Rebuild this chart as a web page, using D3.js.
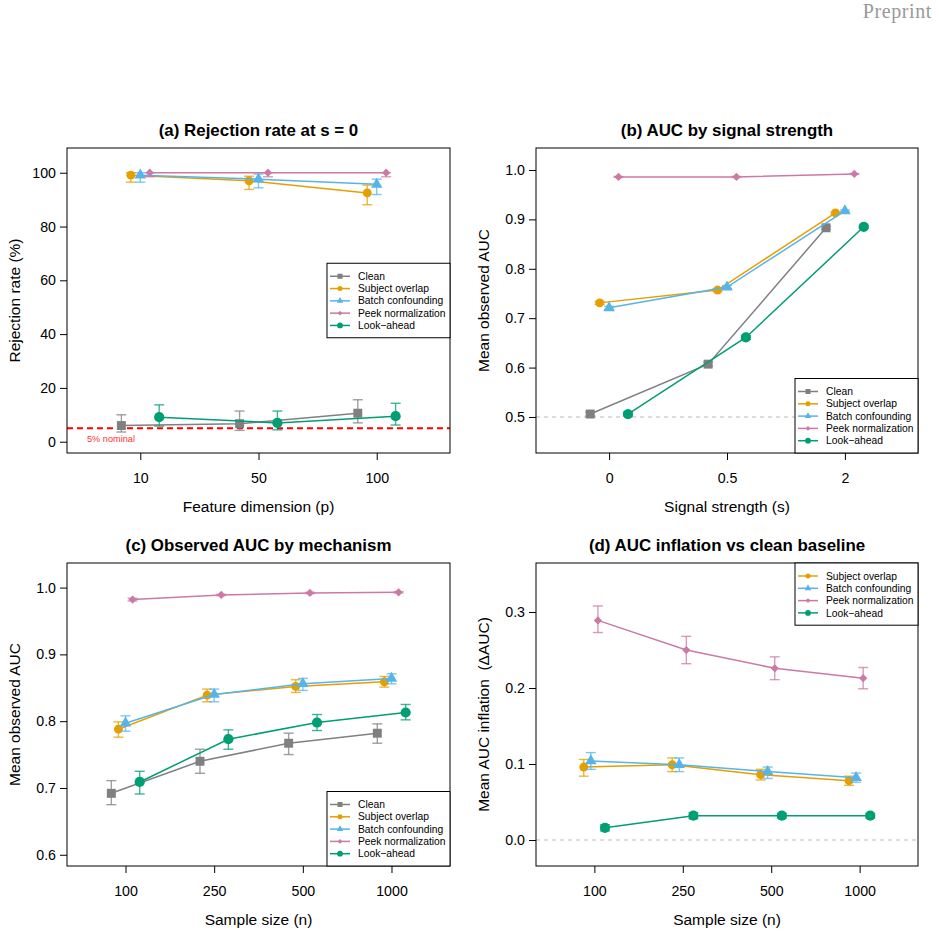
<!DOCTYPE html>
<html><head><meta charset="utf-8">
<script src="https://cdn.jsdelivr.net/npm/d3@7"></script>
<style>
body{margin:0;background:#fff}
svg{display:block;font-family:"Liberation Sans",Arial,Helvetica,sans-serif}
</style>
</head><body><svg id="c" width="939" height="936"></svg>
<script>
// ---------- data ----------
const seriesNames = ["Clean","Subject overlap","Batch confounding","Peek normalization","Look\u2212ahead"];
const seriesColors = ["#808080","#E69F00","#56B4E9","#CC79A7","#009E73"];
const seriesShapes = ["square","circle","triangle","diamond","bigcircle"];

// (a) rejection rate at s = 0
const pLabels = ["10","50","100"];
const aMean = [[6.0,6.7,10.6],[99.1,97.0,92.5],[99.1,97.6,95.7],[100,100,100],[9.1,7.0,9.5]];
const aLo   = [[3.6,4.2,7.0],[96.5,93.8,88.1],[96.5,94.4,91.9],[98.5,98.5,98.5],[5.8,4.4,6.2]];
const aHi   = [[10.0,11.4,15.6],[100,98.7,95.4],[100,99.5,97.6],[100,100,100],[13.7,11.4,14.3]];
const aYTicks = [0,20,40,60,80,100];

// (b) AUC by signal strength
const sLabels = ["0","0.5","2"];
const bMean = [[0.506,0.607,0.883],[0.731,0.757,0.913],[0.721,0.763,0.917],[0.986,0.986,0.992],[0.506,0.661,0.885]];
const bLo   = [[0.502,0.603,0.880],[0.728,0.754,0.911],[0.718,0.760,0.915],[0.985,0.985,0.991],[0.502,0.657,0.882]];
const bHi   = [[0.510,0.611,0.886],[0.734,0.760,0.915],[0.724,0.766,0.919],[0.987,0.987,0.993],[0.510,0.665,0.888]];
const bYTicks = [0.5,0.6,0.7,0.8,0.9,1.0];

// (c) observed AUC by mechanism
const nLabels = ["100","250","500","1000"];
const cMean = [[0.692,0.740,0.767,0.782],[0.788,0.839,0.852,0.859],[0.797,0.840,0.856,0.864],[0.982,0.989,0.992,0.993],[0.709,0.773,0.798,0.813]];
const cLo   = [[0.675,0.722,0.750,0.767],[0.776,0.829,0.843,0.851],[0.785,0.829,0.846,0.856],[0.980,0.988,0.991,0.992],[0.691,0.758,0.786,0.802]];
const cHi   = [[0.711,0.758,0.782,0.796],[0.799,0.848,0.862,0.867],[0.808,0.848,0.864,0.871],[0.984,0.990,0.993,0.994],[0.725,0.787,0.810,0.825]];
const cYTicks = [0.6,0.7,0.8,0.9,1.0];

// (d) AUC inflation vs clean baseline (series 1..4)
const dMean = [[0.096,0.099,0.086,0.078],[0.104,0.099,0.090,0.082],[0.289,0.250,0.226,0.213],[0.016,0.032,0.032,0.032]];
const dLo   = [[0.084,0.090,0.079,0.072],[0.093,0.090,0.081,0.076],[0.273,0.232,0.211,0.199],[0.012,0.028,0.029,0.029]];
const dHi   = [[0.106,0.108,0.093,0.084],[0.115,0.108,0.096,0.088],[0.308,0.268,0.241,0.227],[0.020,0.036,0.035,0.035]];
const dYTicks = [0.0,0.1,0.2,0.3];

// ---------- drawing ----------
const svg = d3.select("#c");

function markerPath(shape, big){
  const k = big ? 1 : 0.32;
  switch(shape){
    case "square": return {p:d3.symbol(d3.symbolSquare, 80*k)(), rot:0};
    case "circle": return {p:d3.symbol(d3.symbolCircle, 62*k)(), rot:0};
    case "triangle": return {p:d3.symbol(d3.symbolTriangle, 58*k)(), rot:0};
    case "diamond": return {p:d3.symbol(d3.symbolSquare, 34*k)(), rot:45};
    case "bigcircle": return {p:d3.symbol(d3.symbolCircle, 82*k)(), rot:0};
  }
}

function drawPanel(cfg){
  const {L,R,T,B,labels,ydom,yticks,yfmt,sIdx,offsets,mean,lo,hi,title,xtitle,ytitle,legend,ref} = cfg;
  const n = labels.length;
  const ex = n*0.04;
  const x = d3.scaleLinear().domain([0.5-ex, n+0.5+ex]).range([L,R]);
  const y = d3.scaleLinear().domain(ydom).range([B,T]);
  const g = svg.append("g");

  // reference line
  if(ref){
    g.append("line").attr("x1",L).attr("x2",R).attr("y1",y(ref.v)).attr("y2",y(ref.v))
      .attr("stroke",ref.color).attr("stroke-width",ref.w).attr("stroke-dasharray",ref.dash);
    if(ref.text){
      g.append("text").attr("x",L+20).attr("y",y(ref.v)+14).attr("fill","#FF3333")
        .attr("font-size",9.2).text(ref.text);
    }
  }

  // series
  sIdx.forEach((s,k)=>{
    const col = seriesColors[s];
    const pts = mean[k].map((v,i)=>({x:x(i+1+offsets[k]), y:y(v), lo:y(lo[k][i]), hi:y(hi[k][i])}));
    const eb = g.append("g").attr("stroke",col).attr("stroke-opacity",0.75).attr("stroke-width",1.4);
    pts.forEach(p=>{
      eb.append("line").attr("x1",p.x).attr("x2",p.x).attr("y1",p.lo).attr("y2",p.hi);
      eb.append("line").attr("x1",p.x-5).attr("x2",p.x+5).attr("y1",p.lo).attr("y2",p.lo);
      eb.append("line").attr("x1",p.x-5).attr("x2",p.x+5).attr("y1",p.hi).attr("y2",p.hi);
    });
    g.append("path").attr("d",d3.line().x(d=>d.x).y(d=>d.y)(pts))
      .attr("fill","none").attr("stroke",col).attr("stroke-width",1.5);
    const m = markerPath(seriesShapes[s], true);
    pts.forEach(p=>{
      g.append("path").attr("d",m.p).attr("fill",col)
        .attr("transform",`translate(${p.x},${p.y}) rotate(${m.rot})`);
    });
  });

  // box
  g.append("rect").attr("x",L).attr("y",T).attr("width",R-L).attr("height",B-T)
    .attr("fill","none").attr("stroke","#000").attr("stroke-width",1);

  // axes
  const xa = d3.axisBottom(x).tickValues(d3.range(1,n+1)).tickFormat(i=>labels[i-1]).tickSize(7).tickPadding(13);
  const xg = g.append("g").attr("transform",`translate(0,${B})`).call(xa);
  const ya = d3.axisLeft(y).tickValues(yticks).tickFormat(yfmt).tickSize(7).tickPadding(4);
  const yg = g.append("g").attr("transform",`translate(${L},0)`).call(ya);
  [xg,yg].forEach(a=>{
    a.select(".domain").remove();
    a.selectAll("line").attr("stroke","#000");
    a.selectAll("text").attr("font-size",14.2).attr("fill","#000").attr("font-family","Liberation Sans, Arial, sans-serif");
  });

  // titles
  g.append("text").attr("x",(L+R)/2).attr("y",T-12).attr("text-anchor","middle")
    .attr("font-weight","bold").attr("font-size",16.9).text(title);
  g.append("text").attr("x",(L+R)/2).attr("y",B+58.5).attr("text-anchor","middle")
    .attr("font-size",15.5).text(xtitle);
  g.append("text").attr("transform",`translate(${L-47.5},${(T+B)/2}) rotate(-90)`)
    .attr("text-anchor","middle").attr("font-size",15.5).style("white-space","pre").text(ytitle);

  // legend
  const lw = 123, rowH = 12.3, lh = sIdx.length*rowH + 13;
  let lx = R - lw, ly;
  if(legend==="right") ly = (T+B)/2 - lh/2;
  else if(legend==="bottomright") ly = B - lh;
  else ly = T;
  const lg = g.append("g");
  lg.append("rect").attr("x",lx).attr("y",ly).attr("width",lw).attr("height",lh)
    .attr("fill","#fff").attr("stroke","#000").attr("stroke-width",1);
  sIdx.forEach((s,k)=>{
    const yy = ly + 13 + k*rowH;
    const col = seriesColors[s];
    lg.append("line").attr("x1",lx+3).attr("x2",lx+23).attr("y1",yy).attr("y2",yy)
      .attr("stroke",col).attr("stroke-width",1.5);
    const m = markerPath(seriesShapes[s], false);
    lg.append("path").attr("d",m.p).attr("fill",col)
      .attr("transform",`translate(${lx+13},${yy}) rotate(${m.rot})`);
    lg.append("text").attr("x",lx+31).attr("y",yy+3.6).attr("font-size",10.3).text(seriesNames[s]);
  });
}

const f1 = d3.format(".1f");
const off5 = [-0.16,-0.08,0,0.08,0.16];
const off4 = [-0.12,-0.04,0.04,0.12];

drawPanel({L:67,R:450,T:148,B:453,labels:pLabels,ydom:[-4.2,109.2],yticks:aYTicks,yfmt:d3.format("d"),
  sIdx:[0,1,2,3,4],offsets:off5,mean:aMean,lo:aLo,hi:aHi,
  title:"(a) Rejection rate at s = 0",xtitle:"Feature dimension (p)",ytitle:"Rejection rate (%)",
  legend:"right",ref:{v:5,color:"#FF0000",w:1.8,dash:"6,4",text:"5% nominal"}});

drawPanel({L:536,R:918,T:148,B:453,labels:sLabels,ydom:[0.4271,1.0445],yticks:bYTicks,yfmt:f1,
  sIdx:[0,1,2,3,4],offsets:off5,mean:bMean,lo:bLo,hi:bHi,
  title:"(b) AUC by signal strength",xtitle:"Signal strength (s)",ytitle:"Mean observed AUC",
  legend:"bottomright",ref:{v:0.5,color:"#BBBBBB",w:1,dash:"4,4"}});

drawPanel({L:67,R:450,T:563,B:866,labels:nLabels,ydom:[0.5832,1.0368],yticks:cYTicks,yfmt:f1,
  sIdx:[0,1,2,3,4],offsets:off5,mean:cMean,lo:cLo,hi:cHi,
  title:"(c) Observed AUC by mechanism",xtitle:"Sample size (n)",ytitle:"Mean observed AUC",
  legend:"bottomright",ref:null});

drawPanel({L:536,R:918,T:563,B:866,labels:nLabels,ydom:[-0.0342,0.3645],yticks:dYTicks,yfmt:f1,
  sIdx:[1,2,3,4],offsets:off4,mean:dMean,lo:dLo,hi:dHi,
  title:"(d) AUC inflation vs clean baseline",xtitle:"Sample size (n)",ytitle:"Mean AUC inflation  (\u0394AUC)",
  legend:"top",ref:{v:0,color:"#BBBBBB",w:1,dash:"4,4"}});

svg.append("text").attr("x",932).attr("y",18).attr("text-anchor","end")
  .attr("font-family","Liberation Serif, 'DejaVu Serif', serif").attr("font-size",20)
  .attr("fill","#999").attr("letter-spacing",0.6).text("Preprint");
</script>
</body></html>
